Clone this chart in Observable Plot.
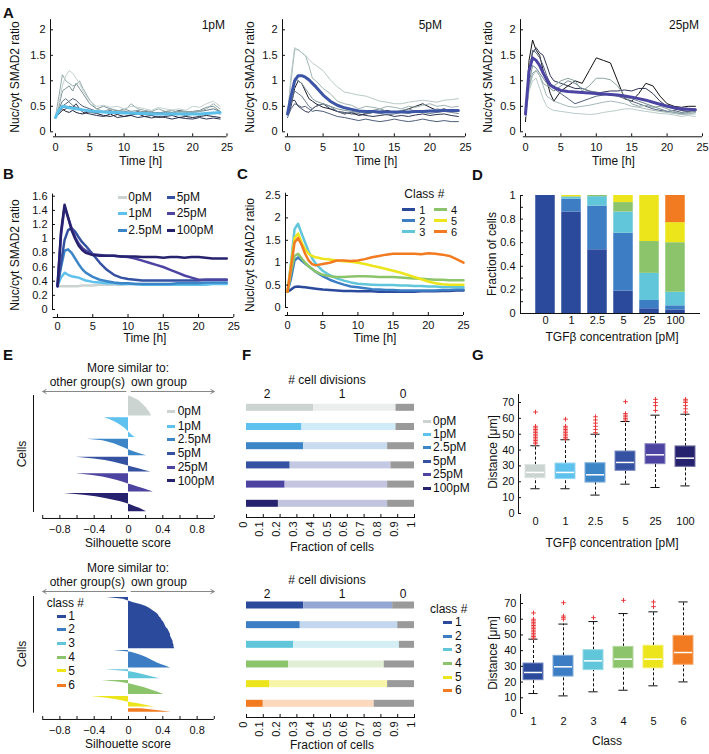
<!DOCTYPE html>
<html><head><meta charset="utf-8">
<script src="https://cdn.jsdelivr.net/npm/d3@7"></script>
<script src="https://cdn.jsdelivr.net/npm/@observablehq/plot@0.6"></script>
<style>
body{margin:0;background:#fff;}
#fig{position:relative;width:709px;height:754px;overflow:hidden;background:#fff;font-family:"Liberation Sans",Arial,Helvetica,sans-serif;color:#111;}
.t{position:absolute;white-space:nowrap;line-height:1;}
.sw{position:absolute;}
</style></head><body><div id="fig"></div>
<script>
// ================= DATA =================
const timeA = [0,0.5,1,1.5,2,2.5,3,3.5,4,5,6,7,8,9,10,11,12,13,14,15,16,17,18,19,20,21,22,23,24];
const timeC = [0,0.5,1,1.5,2,2.5,3,3.5,4,5,6,7,8,9,10,11,12,13,14,15,16,17,18,19,20,21,22,23,24,25];
const xTicksA = [0,5,10,15,20,25];
const yTicksA = [0,0.5,1,1.5,2];
const yTicksB = [0,0.2,0.4,0.6,0.8,1,1.2,1.4,1.6];
const yTicksC = [0,0.5,1,1.5,2,2.5];

// A: single-cell traces (1pM, 5pM, 25pM)
const a1Traces = [
 [0.28,0.35,0.42,0.45,0.50,0.48,0.55,0.45,0.38,0.35,0.32,0.30,0.35,0.28,0.30,0.32,0.28,0.30,0.27,0.30,0.28,0.25,0.28,0.26,0.25,0.28,0.25,0.27,0.25],
 [0.30,0.38,0.45,0.40,0.38,0.42,0.38,0.36,0.35,0.40,0.36,0.32,0.30,0.34,0.30,0.33,0.35,0.30,0.32,0.28,0.30,0.32,0.28,0.30,0.28,0.30,0.32,0.30,0.28],
 [0.30,0.40,0.50,0.55,0.60,0.65,0.62,0.55,0.50,0.45,0.40,0.38,0.42,0.36,0.38,0.35,0.40,0.34,0.36,0.38,0.33,0.36,0.35,0.32,0.35,0.33,0.35,0.38,0.35],
 [0.30,0.45,0.60,0.65,0.58,0.52,0.48,0.45,0.42,0.38,0.36,0.40,0.38,0.42,0.40,0.38,0.36,0.40,0.38,0.36,0.40,0.38,0.42,0.40,0.38,0.40,0.42,0.45,0.40],
 [0.30,0.50,0.80,0.85,0.90,0.80,0.95,0.85,0.75,0.55,0.45,0.50,0.45,0.40,0.45,0.40,0.42,0.38,0.40,0.35,0.38,0.36,0.40,0.38,0.40,0.42,0.48,0.50,0.40],
 [0.30,0.70,1.12,1.00,0.95,0.90,0.92,1.00,0.85,0.62,0.45,0.40,0.45,0.42,0.40,0.55,0.45,0.42,0.40,0.45,0.40,0.42,0.38,0.40,0.38,0.40,0.45,0.55,0.45],
 [0.30,0.55,0.90,1.10,1.20,1.15,1.05,0.95,0.80,0.60,0.50,0.52,0.48,0.50,0.45,0.50,0.48,0.45,0.42,0.48,0.45,0.43,0.45,0.42,0.50,0.48,0.55,0.60,0.50]
];
const a1Mean = [0.28,0.42,0.50,0.49,0.47,0.46,0.45,0.44,0.43,0.41,0.40,0.39,0.38,0.38,0.37,0.37,0.36,0.36,0.35,0.35,0.35,0.35,0.35,0.35,0.35,0.35,0.36,0.37,0.38];
const a2Traces = [
 [0.30,0.50,0.85,1.00,0.95,0.80,0.65,0.60,0.55,0.48,0.45,0.40,0.35,0.38,0.32,0.35,0.38,0.40,0.42,0.38,0.40,0.45,0.50,0.55,0.48,0.42,0.45,0.40,0.42],
 [0.30,0.60,0.62,0.50,0.45,0.40,0.38,0.45,0.50,0.55,0.45,0.40,0.38,0.35,0.35,0.32,0.30,0.32,0.34,0.30,0.32,0.30,0.33,0.35,0.32,0.34,0.35,0.32,0.30],
 [0.28,0.45,0.55,0.52,0.48,0.50,0.45,0.40,0.42,0.40,0.35,0.30,0.28,0.25,0.22,0.25,0.22,0.20,0.22,0.25,0.22,0.20,0.22,0.25,0.22,0.20,0.22,0.20,0.20],
 [0.30,0.55,0.80,0.75,0.70,0.60,0.50,0.45,0.50,0.55,0.50,0.40,0.35,0.38,0.40,0.35,0.38,0.36,0.33,0.35,0.38,0.36,0.40,0.38,0.36,0.38,0.40,0.38,0.36],
 [0.30,0.70,1.05,1.00,0.95,0.85,0.75,0.65,0.60,0.55,0.50,0.45,0.42,0.40,0.38,0.40,0.42,0.45,0.40,0.38,0.42,0.45,0.40,0.42,0.40,0.45,0.42,0.40,0.42],
 [0.30,1.00,1.60,1.62,1.55,1.50,1.30,1.05,1.00,0.85,0.75,0.60,0.55,0.52,0.45,0.50,0.48,0.45,0.50,0.48,0.45,0.50,0.48,0.52,0.55,0.50,0.52,0.48,0.50],
 [0.30,1.10,1.65,1.60,1.55,1.50,1.42,1.35,1.30,1.20,1.02,0.88,0.78,0.75,0.72,0.70,0.65,0.60,0.58,0.55,0.55,0.58,0.60,0.62,0.60,0.58,0.62,0.63,0.65]
];
const a2Mean = [0.35,0.70,1.00,1.10,1.10,1.07,1.02,0.95,0.88,0.72,0.60,0.52,0.47,0.44,0.41,0.40,0.40,0.39,0.39,0.39,0.39,0.39,0.40,0.40,0.41,0.41,0.42,0.42,0.42];
const a3Traces = [
 [0.20,1.40,1.80,1.60,1.50,1.20,1.00,0.75,0.60,0.80,0.90,1.00,0.95,1.20,1.45,1.40,1.35,1.00,0.65,0.60,0.75,0.95,0.90,0.70,0.55,0.50,0.48,0.50,0.50],
 [0.30,1.20,1.55,1.65,1.55,1.50,1.30,1.10,1.00,0.95,0.90,0.85,0.85,0.80,0.75,0.78,0.80,0.80,0.82,0.80,0.85,0.85,0.75,0.60,0.50,0.45,0.42,0.40,0.42],
 [0.30,1.10,1.60,1.55,1.45,1.30,1.10,0.95,0.85,0.75,0.65,0.55,0.60,0.65,0.70,0.72,0.75,0.70,0.65,0.60,0.55,0.50,0.45,0.42,0.40,0.42,0.38,0.40,0.45],
 [0.30,0.95,1.30,1.25,1.15,1.05,0.95,0.85,0.80,0.90,1.00,0.95,0.85,0.80,0.78,0.75,0.72,0.70,0.68,0.65,0.60,0.55,0.50,0.45,0.40,0.38,0.35,0.38,0.40],
 [0.30,0.90,1.15,1.20,1.10,0.95,0.90,0.88,0.90,1.00,1.05,1.00,0.80,0.90,1.05,1.05,1.02,0.90,0.70,0.55,0.50,0.52,0.48,0.50,0.45,0.40,0.35,0.35,0.38],
 [0.30,0.85,1.10,1.20,1.10,0.90,0.70,0.65,0.60,0.55,0.50,0.48,0.50,0.52,0.55,0.58,0.60,0.58,0.55,0.50,0.48,0.45,0.42,0.40,0.38,0.36,0.34,0.35,0.35],
 [0.30,0.80,1.00,1.05,0.85,0.65,0.50,0.45,0.42,0.40,0.38,0.36,0.35,0.34,0.35,0.38,0.40,0.42,0.45,0.45,0.42,0.40,0.38,0.36,0.35,0.33,0.30,0.32,0.30]
];
const a3Mean = [0.35,1.20,1.45,1.40,1.30,1.15,1.02,0.92,0.87,0.81,0.79,0.78,0.77,0.76,0.75,0.74,0.73,0.72,0.70,0.68,0.65,0.62,0.58,0.54,0.50,0.47,0.45,0.44,0.43];
const a1TraceColors = ["#2b3050","#1d2136","#4f5b76","#627683","#7a9094","#94aba9","#c3d2d0"];
const a2TraceColors = ["#1c1f2e","#2e3552","#4e5c78","#67798b","#7f9598","#9fb4b2","#b7c9c7"];
const a3TraceColors = ["#111111","#2f3456","#525f7c","#718792","#8ba3a2","#a5b9b8","#bacbca"];

// B: mean responses per concentration
const concLabels = ["0pM","1pM","2.5pM","5pM","25pM","100pM"];
const concColors = ["#cbd4d1","#5ec1ee","#3c86c8","#3551a1","#4c44a0","#27226e"];
const b0pM   = [0.33,0.33,0.33,0.33,0.33,0.33,0.33,0.34,0.34,0.34,0.35,0.35,0.35,0.35,0.36,0.36,0.36,0.36,0.36,0.36,0.36,0.36,0.37,0.37,0.37,0.37,0.37,0.37,0.37];
const b1pM   = [0.33,0.45,0.52,0.49,0.47,0.46,0.45,0.43,0.41,0.39,0.38,0.37,0.37,0.36,0.36,0.36,0.35,0.35,0.35,0.35,0.35,0.35,0.35,0.35,0.35,0.35,0.36,0.36,0.36];
const b2p5pM = [0.33,0.60,0.83,0.85,0.80,0.72,0.64,0.57,0.52,0.46,0.42,0.40,0.38,0.37,0.37,0.36,0.36,0.36,0.36,0.36,0.36,0.37,0.37,0.37,0.37,0.38,0.38,0.38,0.38];
const b5pM   = [0.33,0.65,0.98,1.12,1.15,1.10,1.02,0.95,0.90,0.78,0.66,0.56,0.49,0.45,0.43,0.42,0.41,0.41,0.41,0.41,0.41,0.41,0.41,0.41,0.41,0.42,0.42,0.42,0.42];
const b25pM  = [0.33,1.05,1.45,1.30,1.15,1.02,0.93,0.87,0.83,0.78,0.77,0.76,0.76,0.75,0.74,0.72,0.69,0.66,0.63,0.60,0.56,0.52,0.48,0.45,0.42,0.42,0.42,0.42,0.42];
const b100pM = [0.33,1.10,1.48,1.30,1.12,1.00,0.90,0.84,0.80,0.77,0.76,0.76,0.76,0.75,0.75,0.75,0.74,0.74,0.74,0.73,0.74,0.74,0.73,0.74,0.74,0.73,0.72,0.72,0.72];

// C: class mean responses
const classLabels = ["1","2","3","4","5","6"];
const classColors = ["#2c4a9c","#3c7dc3","#62c6da","#8cc46c","#ede51c","#f27b22"];
const c1 = [0.35,0.40,0.46,0.47,0.46,0.45,0.44,0.43,0.42,0.40,0.39,0.38,0.37,0.37,0.36,0.36,0.36,0.35,0.35,0.35,0.35,0.35,0.35,0.36,0.36,0.36,0.37,0.37,0.38,0.38];
const c2 = [0.35,0.65,1.05,1.12,1.05,0.98,0.92,0.86,0.80,0.70,0.62,0.56,0.51,0.47,0.45,0.43,0.41,0.40,0.39,0.39,0.38,0.38,0.38,0.38,0.38,0.38,0.39,0.39,0.40,0.40];
const c3 = [0.35,1.00,1.75,1.87,1.65,1.45,1.25,1.10,0.98,0.82,0.72,0.65,0.60,0.56,0.53,0.52,0.51,0.50,0.50,0.50,0.49,0.49,0.48,0.48,0.47,0.47,0.46,0.46,0.45,0.45];
const c4 = [0.35,0.80,1.15,1.20,1.10,1.00,0.92,0.86,0.80,0.73,0.70,0.68,0.68,0.69,0.70,0.70,0.69,0.68,0.68,0.68,0.67,0.66,0.65,0.64,0.63,0.62,0.62,0.61,0.61,0.61];
const c5 = [0.35,0.95,1.55,1.65,1.45,1.30,1.20,1.15,1.12,1.09,1.07,1.05,1.03,1.02,1.00,0.97,0.93,0.90,0.86,0.82,0.78,0.73,0.68,0.63,0.58,0.54,0.52,0.51,0.51,0.51];
const c6 = [0.35,0.90,1.45,1.55,1.40,1.20,1.05,0.97,0.94,0.97,1.00,1.05,1.05,1.04,1.05,1.08,1.12,1.15,1.18,1.20,1.20,1.20,1.20,1.19,1.21,1.20,1.18,1.15,1.08,1.00];

// D: class fractions per concentration
const dCats = ["0","1","2.5","5","25","100"];
const dClass1 = [1.00,0.86,0.54,0.19,0.04,0.03];
const dClass2 = [0.00,0.11,0.37,0.49,0.07,0.035];
const dClass3 = [0.00,0.015,0.08,0.18,0.23,0.115];
const dClass4 = [0.00,0.005,0.01,0.08,0.27,0.42];
const dClass5 = [0.00,0.01,0.00,0.06,0.39,0.17];
const dClass6 = [0.00,0.00,0.00,0.00,0.00,0.23];
const yTicksD = [0,0.1,0.2,0.3,0.4,0.5,0.6,0.7,0.8,0.9,1];
const yLabelsD = [0,0.2,0.4,0.6,0.8,1];

// E: silhouette scores (cells sorted within each group)
const eTicks = [-1,-0.8,-0.6,-0.4,-0.2,0,0.2,0.4,0.6,0.8,1];
const eLabels = [-0.8,-0.4,0,0.4,0.8];
const eTop0pM   = [0.02,0.06,0.10,0.13,0.15,0.17,0.19,0.21,0.22,0.24,0.25,0.26,0.27];
const eTop1pM   = [-0.28,-0.22,-0.18,-0.14,-0.11,-0.08,-0.05,-0.03,-0.01,0.01,0.03,0.05,0.08];
const eTop2p5pM = [-0.48,-0.30,-0.22,-0.16,-0.11,-0.06,-0.02,0.03,0.08,0.14,0.21];
const eTop5pM   = [-0.61,-0.40,-0.27,-0.17,-0.09,-0.02,0.05,0.12,0.19,0.26];
const eTop25pM  = [-0.61,-0.42,-0.30,-0.21,-0.14,-0.07,-0.01,0.05,0.11,0.17,0.23,0.29];
const eTop100pM = [-0.75,-0.52,-0.38,-0.27,-0.17,-0.09,-0.02,0.03,0.08,0.13,0.17,0.21];
const eBot1 = [-0.25,-0.06,0.00,0.06,0.14,0.20,0.24,0.27,0.30,0.33,0.35,0.36,0.38,0.39,0.41,0.42,0.43,0.44,0.46,0.47,0.48,0.49,0.49,0.50,0.51,0.52,0.52,0.53,0.53,0.54];
const eBot2 = [-0.17,0.03,0.10,0.16,0.21,0.25,0.29,0.33,0.38,0.44,0.49];
const eBot3 = [-0.27,0.02,0.12,0.20,0.28,0.37];
const eBot4 = [-0.31,-0.10,0.02,0.10,0.18,0.24,0.30,0.36,0.41];
const eBot5 = [-0.43,-0.25,-0.12,-0.03,0.10,0.20,0.30];
const eBot6 = [0.15,0.33,0.50];

// F: fraction of cells by number of divisions (2, 1, 0)
const fTicks = [0,0.1,0.2,0.3,0.4,0.5,0.6,0.7,0.8,0.9,1];
const fTopTwo  = [0.40,0.33,0.34,0.26,0.23,0.19];
const fTopOne  = [0.49,0.56,0.50,0.60,0.61,0.65];
const fTopZero = [0.11,0.11,0.16,0.14,0.16,0.16];
const fTopLight = ["#eaeeed","#d1ecf9","#c8dbef","#c3c9e3","#c5c5e2","#c2c4df"];
const fBotTwo  = [0.34,0.32,0.28,0.25,0.14,0.10];
const fBotOne  = [0.53,0.58,0.63,0.57,0.70,0.66];
const fBotZero = [0.13,0.10,0.09,0.18,0.16,0.24];
const fBotLight = ["#94a7d3","#c3d8ee","#d3eff5","#e0efd6","#f8f4a8","#fcd8bd"];
const fZeroColor = "#9a9a9a";

// G: distance box plots
const yTicksG = [0,10,20,30,40,50,60,70];
const gTopCats = ["0","1","2.5","5","25","100"];
const gTopLo  = [15.6,15.6,11.6,18.5,16.4,17.4];
const gTopQ1  = [22.3,21.7,19.5,26.9,31.1,29.4];
const gTopMed = [25.9,25.9,24.4,32.2,37.0,34.9];
const gTopQ3  = [30.5,31.5,31.7,39.1,43.7,42.3];
const gTopHi  = [42.7,46.5,50.0,58.0,62.0,62.6];
const gTopOut = [[44,45,46,47,48,49,50,51,52,53,54,55,64],[47,48,49,50,51,52,53,54,55,59.5],[51,53,55,57,59,61],[59,60,61,62,63,70.5],[65,68,70,72],[64,66,68,70,71,72]];
const gBotCats = ["1","2","3","4","5","6"];
const gBotLo  = [12.7,11.2,13.8,14.8,17.6,20.1];
const gBotQ1  = [21.2,23.5,27.6,28.8,28.8,31.0];
const gBotMed = [26.1,29.7,33.5,34.6,34.6,38.8];
const gBotQ3  = [31.8,36.7,40.3,42.4,43.1,49.4];
const gBotHi  = [47.3,56.9,58.5,63.6,64.7,71.0];
const gBotOut = [[48,49,50,51,52,53,54,55,56,57,58,59,60,64],[60,61,62,70.5],[61],[72],[68,71],[]];

// ================= HELPERS =================
const FONT = '"Liberation Sans", Arial, Helvetica, sans-serif';
const INK = "#111";
const FS = 12;      // titles, legends
const FST = 11;     // tick labels
const fig = document.getElementById("fig");
const lin = (p0, v0, p1, v1) => { const k = (v1 - v0) / (p1 - p0); return p => v0 + (p - p0) * k; };
const fmt = d => (d < 0 ? "\u2212" + Math.abs(d) : String(d));

function txt(x, y, s, o = {}) {
  const d = document.createElement("div");
  d.className = "t"; d.textContent = s;
  d.style.left = x + "px"; d.style.top = y + "px";
  d.style.fontSize = (o.size || FS) + "px";
  if (o.bold) d.style.fontWeight = "bold";
  const ax = o.anchor === "middle" ? "-50%" : o.anchor === "end" ? "-100%" : "0";
  d.style.transform = o.rot ? `translate(-50%,-50%) rotate(${o.rot}deg)` : `translate(${ax},-50%)`;
  fig.appendChild(d);
}
function swatch(x1, x2, y, color, h = 3) {
  const d = document.createElement("div");
  d.className = "sw";
  d.style.left = x1 + "px"; d.style.top = (y - h / 2) + "px";
  d.style.width = (x2 - x1) + "px"; d.style.height = h + "px";
  d.style.background = color;
  fig.appendChild(d);
}
function addPlot(L, T, R, B, opts) {
  const svg = Plot.plot({
    width: R - L, height: B - T,
    marginLeft: 0, marginRight: 0, marginTop: 0, marginBottom: 0,
    style: {background: "none", overflow: "visible", fontFamily: FONT, fontSize: FST + "px", color: INK},
    ...opts
  });
  svg.style.position = "absolute"; svg.style.left = L + "px"; svg.style.top = T + "px";
  fig.appendChild(svg);
}
function bandOpts(n, c0, step, bw, r0, r1) {
  const pi = 1 - bw / step;
  const po = ((r1 - r0) / step - n + pi) / 2;
  const align = (c0 - bw / 2 - r0) / ((r1 - r0) - step * (n - pi));
  return {paddingInner: pi, paddingOuter: po, align, round: false};
}
// continuous panel with offset (MATLAB-like) axes
function contPanel(o) {
  const xv = lin(...o.xa), yv = lin(...o.ya);
  const xd = [xv(o.L), xv(o.R)], yd = [yv(o.B), yv(o.T)];
  const ux = (xd[1] - xd[0]) / (o.R - o.L), uy = (yd[1] - yd[0]) / (o.B - o.T);
  const marks = [...o.marks];
  if (o.xAxis) {
    const a = o.xAxis;
    marks.push(Plot.ruleY([yd[0]], {x1: a.from, x2: a.to, stroke: INK}));
    marks.push(Plot.ruleX(a.ticks, {x: d => d, y1: yd[0], y2: yd[0] + 3 * uy, stroke: INK}));
    marks.push(Plot.text(a.labels, {x: d => d, y: yd[0], dy: a.dy || 11, text: fmt, fill: INK}));
  }
  if (o.yAxis) {
    const a = o.yAxis;
    marks.push(Plot.ruleX([xd[0]], {y1: a.from, y2: a.to, stroke: INK}));
    marks.push(Plot.ruleY(a.ticks, {y: d => d, x1: xd[0], x2: xd[0] + 3 * ux, stroke: INK}));
    marks.push(Plot.text(a.labels, {x: xd[0], y: d => d, dx: -(a.dx || 5), textAnchor: "end", text: fmt, fill: INK}));
  }
  addPlot(o.L, o.T, o.R, o.B, {x: {domain: xd, axis: null}, y: {domain: yd, axis: null}, marks});
  return {xv, yv};
}
function seriesData(times, arrays, colors) {
  const out = [];
  arrays.forEach((arr, k) => arr.forEach((v, j) => out.push({t: times[j], v, k, c: colors[k]})));
  return out;
}

// ================= PANEL A =================
function aPanel(L, R, x0, x25, traces, colors, mean, meanColor, title, titleRight) {
  contPanel({
    L, R, T: 18.7, B: 136, xa: [x0, 0, x25, 25], ya: [131, 0, 29, 2],
    xAxis: {from: -0.3, to: 25, ticks: xTicksA, labels: xTicksA, dy: 11},
    yAxis: {from: 0, to: 2.2, ticks: yTicksA, labels: yTicksA},
    marks: [
      Plot.line(seriesData(timeA, traces, colors), {x: "t", y: "v", z: "k", stroke: "c", strokeWidth: 1}),
      Plot.line(seriesData(timeA, [mean], [meanColor]), {x: "t", y: "v", stroke: "c", strokeWidth: 3})
    ]
  });
  txt(titleRight, 25, title, {anchor: "end"});
  txt((x0 + x25) / 2, 161, "Time [h]", {anchor: "middle"});
}
aPanel(50, 226.5, 55, 226.5, a1Traces, a1TraceColors, a1Mean, "#5bbfe9", "1pM", 225);
aPanel(282, 465, 287, 465, a2Traces, a2TraceColors, a2Mean, "#3d55a6", "5pM", 442);
aPanel(520, 702, 525, 702, a3Traces, a3TraceColors, a3Mean, "#4b44a2", "25pM", 699);
txt(15, 77, "Nuc/cyt SMAD2 ratio", {rot: -90});
txt(250, 77, "Nuc/cyt SMAD2 ratio", {rot: -90});
txt(488, 77, "Nuc/cyt SMAD2 ratio", {rot: -90});

// ================= PANEL B =================
contPanel({
  L: 52, R: 233.5, T: 193, B: 317, xa: [57, 0, 233.3, 25], ya: [309, 0, 195.7, 1.6],
  xAxis: {from: -0.6, to: 25, ticks: xTicksA, labels: xTicksA, dy: 9},
  yAxis: {from: 0, to: 1.63, ticks: yTicksB, labels: yTicksB},
  marks: [Plot.line(seriesData(timeA, [b0pM, b1pM, b2p5pM, b5pM, b25pM, b100pM], concColors), {x: "t", y: "v", z: "k", stroke: "c", strokeWidth: 2.5})]
});
txt(15, 255, "Nuc/cyt SMAD2 ratio", {rot: -90});
txt(145, 338, "Time [h]", {anchor: "middle"});
[[0, 118.3, 197.3], [1, 118.3, 213], [2, 118.3, 230], [3, 166.7, 197.3], [4, 166.7, 213], [5, 166.7, 230]].forEach(([k, x, y]) => {
  swatch(x, x + 8.5, y, concColors[k]); txt(x + 10, y, concLabels[k]);
});

// ================= PANEL C =================
contPanel({
  L: 285, R: 463.5, T: 193, B: 315, xa: [287, 0, 463, 25], ya: [307, 0, 195, 2.5],
  xAxis: {from: -0.3, to: 25, ticks: xTicksA, labels: xTicksA, dy: 10},
  yAxis: {from: 0, to: 2.55, ticks: yTicksC, labels: yTicksC},
  marks: [Plot.line(seriesData(timeC, [c1, c2, c3, c4, c5, c6], classColors), {x: "t", y: "v", z: "k", stroke: "c", strokeWidth: 2.5})]
});
txt(250, 255, "Nucl/cyt SMAD2 ratio", {rot: -90});
txt(375, 338, "Time [h]", {anchor: "middle"});
txt(404.3, 194, "Class #");
[[0, 402.3, 209.5], [1, 402.3, 220.7], [2, 402.3, 231.9], [3, 434, 209.5], [4, 434, 220.7], [5, 434, 231.9]].forEach(([k, x, y]) => {
  swatch(x, x + 12.5, y, classColors[k]); txt(x + 17, y, classLabels[k], {size: 11});
});

// ================= PANEL D =================
{
  const L = 520, R = 700, T = 195, B = 313;
  const data = [];
  [dClass1, dClass2, dClass3, dClass4, dClass5, dClass6].forEach((arr, k) =>
    arr.forEach((f, j) => data.push({c: dCats[j], f, col: classColors[k]})));
  addPlot(L, T, R, B, {
    x: {type: "band", domain: dCats, axis: null, ...bandOpts(6, 545, 26, 19.5, L, R)},
    y: {domain: [0, 1], axis: null},
    marks: [
      Plot.barY(data, {x: "c", y: "f", fill: "col"}),
      Plot.frame({anchor: "left", stroke: INK}),
      Plot.ruleY([0], {stroke: INK}),
      Plot.ruleY(yTicksD, {y: d => d, insetRight: (R - L) - 3, stroke: INK}),
      Plot.text(yLabelsD, {y: d => d, frameAnchor: "left", dx: -5, textAnchor: "end", text: fmt, fill: INK}),
      Plot.text(dCats, {x: d => d, frameAnchor: "bottom", dy: 10, text: d => d, fill: INK})
    ]
  });
  txt(492, 254, "Fraction of cells", {rot: -90});
  txt(612, 337, "TGF\u03b2 concentration [pM]", {anchor: "middle"});
}

// ================= PANEL E =================
function ePanel(T, cellsEnd, B, scores, colors, arrowY) {
  const N = scores.reduce((s, a) => s + a.length, 0);
  const data = []; let off = 0;
  scores.forEach((arr, g) => { arr.forEach((v, j) => data.push({g, i: off + j + 0.5, v, c: colors[g]})); off += arr.length; });
  const ay = lin(T, 0, cellsEnd, N)(arrowY);
  contPanel({
    L: 33, R: 213.8, T, B, xa: [128, 0, 213.8, 1], ya: [T, 0, cellsEnd, N],
    xAxis: {from: -1, to: 1, ticks: eTicks, labels: eLabels, dy: 11},
    yAxis: {from: 0, to: N, ticks: [], labels: []},
    marks: [
      Plot.areaX(data, {y: "i", x1: 0, x2: "v", z: "g", fill: "c", curve: "linear"}),
      Plot.arrow([[-0.03, -1], [0.03, 1]], {x1: d => d[0], x2: d => d[1], y1: ay, y2: ay, stroke: "#888", strokeWidth: 1, headLength: 6})
    ]
  });
  txt(128, arrowY - 23, "More similar to:", {anchor: "middle"});
  txt(125, arrowY - 9, "other group(s)", {anchor: "end"});
  txt(131, arrowY - 9, "own group");
  txt(22, (T + cellsEnd) / 2, "Cells", {rot: -90});
  txt(128, B + 25, "Silhouette score", {anchor: "middle"});
}
ePanel(395, 512, 518, [eTop0pM, eTop1pM, eTop2p5pM, eTop5pM, eTop25pM, eTop100pM], concColors, 391);
[411, 426, 439, 453.3, 467, 480.7].forEach((y, k) => { swatch(166.7, 175, y, concColors[k]); txt(177.7, y, concLabels[k]); });
ePanel(596, 712.7, 719, [eBot1, eBot2, eBot3, eBot4, eBot5, eBot6], classColors, 591);
txt(46.7, 603, "class #");
[616, 629.3, 643.3, 657.3, 670.7, 685].forEach((y, k) => { swatch(56.7, 65.7, y, classColors[k]); txt(68.3, y, classLabels[k]); });

// ================= PANEL F =================
function fPanel(T, B, firstCenter, step, rows, dark, light, two, one, zero, labY) {
  const L = 246, R = 414;
  const data = [];
  rows.forEach((r, j) => {
    data.push({r, f: two[j], c: dark[j]});
    data.push({r, f: one[j], c: light[j]});
    data.push({r, f: zero[j], c: fZeroColor});
  });
  addPlot(L, T, R, B, {
    x: {domain: [0, 1], axis: null},
    y: {type: "band", domain: rows, axis: null, ...bandOpts(rows.length, firstCenter, step, 7, T, B)},
    marks: [
      Plot.barX(data, {x: "f", y: "r", fill: "c"}),
      Plot.frame({anchor: "bottom", stroke: INK}),
      Plot.ruleX(fTicks, {x: d => d, insetTop: (B - T) - 3, stroke: INK}),
      Plot.text(fTicks, {x: d => d, frameAnchor: "bottom", dy: 4, rotate: -90, textAnchor: "end", text: fmt, fill: INK})
    ]
  });
  txt(332, labY, "Fraction of cells", {anchor: "middle"});
  txt(327, T - 17.5, "# cell divisions", {anchor: "middle"});
  txt(267, T - 3.5, "2", {anchor: "middle"});
  txt(342, T - 3.5, "1", {anchor: "middle"});
  txt(403, T - 3.5, "0", {anchor: "middle"});
}
fPanel(397, 517, 407.3, 19.2, concLabels, concColors, fTopLight, fTopTwo, fTopOne, fTopZero, 547);
[421, 434, 447, 461, 474, 488].forEach((y, k) => { swatch(423, 431, y, concColors[k]); txt(433, y, concLabels[k]); });
fPanel(597, 717, 605, 19.66, classLabels, classColors, fBotLight, fBotTwo, fBotOne, fBotZero, 745);
txt(430, 609, "class #");
[622, 636, 649, 663, 677, 690].forEach((y, k) => { swatch(443, 452, y, classColors[k]); txt(455, y, classLabels[k]); });

// ================= PANEL G =================
function gPanel(L, R, T, B, y70, firstCenter, cats, colors, lo, q1, med, q3, hi, outs) {
  const bw = 20;
  const stats = cats.map((k, j) => ({k, lo: lo[j], q1: q1[j], med: med[j], q3: q3[j], hi: hi[j], c: colors[j], s: d3.interpolateRgb(colors[j], "#fff")(0.35)}));
  const od = [];
  outs.forEach((arr, j) => arr.forEach(v => od.push({k: cats[j], v})));
  const yv = lin(B, 0, y70, 70);
  addPlot(L, T, R, B, {
    x: {type: "band", domain: cats, axis: null, ...bandOpts(6, firstCenter, 30, bw, L, R)},
    y: {domain: [0, yv(T)], axis: null},
    marks: [
      Plot.ruleX(stats, {x: "k", y1: "lo", y2: "q1", stroke: INK, strokeDasharray: "3,2"}),
      Plot.ruleX(stats, {x: "k", y1: "q3", y2: "hi", stroke: INK, strokeDasharray: "3,2"}),
      Plot.tickY(stats, {x: "k", y: "lo", stroke: INK, insetLeft: bw * 0.27, insetRight: bw * 0.27}),
      Plot.tickY(stats, {x: "k", y: "hi", stroke: INK, insetLeft: bw * 0.27, insetRight: bw * 0.27}),
      Plot.barY(stats, {x: "k", y1: "q1", y2: "q3", fill: "c", stroke: "s", strokeWidth: 1}),
      Plot.tickY(stats, {x: "k", y: "med", stroke: "#fff", strokeWidth: 1.5, insetLeft: 1, insetRight: 1}),
      Plot.dot(od, {x: "k", y: "v", symbol: "plus", r: 1.6, stroke: "#e8383a", strokeWidth: 1}),
      Plot.frame({anchor: "left", stroke: INK}),
      Plot.ruleY(yTicksG, {y: d => d, insetRight: (R - L) - 3, stroke: INK}),
      Plot.text(yTicksG, {y: d => d, frameAnchor: "left", dx: -4, textAnchor: "end", text: fmt, fill: INK}),
      Plot.text(cats, {x: d => d, frameAnchor: "bottom", dy: 11, text: d => d, fill: INK})
    ]
  });
}
gPanel(518, 702, 394, 513, 402, 535, gTopCats, concColors, gTopLo, gTopQ1, gTopMed, gTopQ3, gTopHi, gTopOut);
txt(493, 452, "Distance [\u03bcm]", {rot: -90});
txt(612, 543, "TGF\u03b2 concentration [pM]", {anchor: "middle"});
gPanel(520, 696, 594, 713, 603, 533, gBotCats, classColors, gBotLo, gBotQ1, gBotMed, gBotQ3, gBotHi, gBotOut);
txt(493, 653, "Distance [\u03bcm]", {rot: -90});
txt(607, 741, "Class", {anchor: "middle"});

// ================= PANEL LETTERS =================
[["A", 3, 12], ["B", 3, 173], ["C", 237, 173], ["D", 472, 174], ["E", 3, 354], ["F", 242, 354], ["G", 472, 354]].forEach(([s, x, y]) => txt(x, y, s, {bold: true, size: 15}));
</script></body></html>
